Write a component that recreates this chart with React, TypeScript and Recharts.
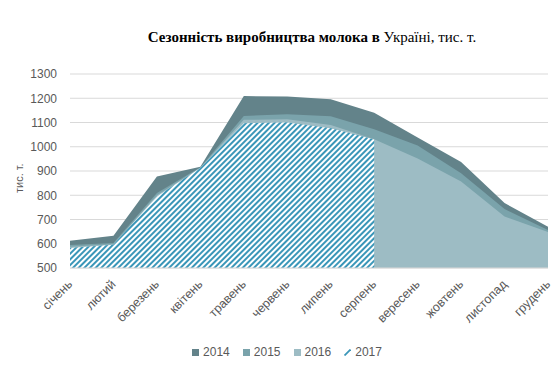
import { AreaChart, Area, XAxis, YAxis, CartesianGrid } from 'recharts'

const months = [
  'січень',
  'лютий',
  'березень',
  'квітень',
  'травень',
  'червень',
  'липень',
  'серпень',
  'вересень',
  'жовтень',
  'листопад',
  'грудень',
]

const y2014 = [612, 633, 877, 918, 1209, 1207, 1196, 1140, 1038, 937, 768, 670]
const y2015 = [595, 603, 809, 915, 1127, 1134, 1126, 1072, 1005, 891, 743, 657]
const y2016 = [588, 598, 800, 913, 1111, 1113, 1090, 1031, 952, 857, 712, 648]
const y2017 = [582, 596, 795, 912, 1097, 1100, 1076, 1030]

const yTicks = [500, 600, 700, 800, 900, 1000, 1100, 1200, 1300]

const C2014 = '#63838a'
const C2015 = '#7aa3ab'
const C2016 = '#9dbcc4'
const HATCH = '#3a96b8'
const TEXT = '#595959'
const FONT = '"Liberation Sans", Arial, sans-serif'

const data = months.map((m, i) => ({
  month: m,
  y2014: y2014[i],
  y2015: y2015[i],
  y2016: y2016[i],
  y2017: i < y2017.length ? y2017[i] : null,
}))

function MonthTick(props: any) {
  const { x, y, payload } = props
  return (
    <text
      x={0}
      y={0}
      transform={`translate(${x + 3},${y + 9}) rotate(-45)`}
      textAnchor="end"
      fontSize={12.5}
      fill={TEXT}
      fontFamily={FONT}
    >
      {payload.value}
    </text>
  )
}

const legendItems = [
  { name: '2014', color: C2014 },
  { name: '2015', color: C2015 },
  { name: '2016', color: C2016 },
  { name: '2017', color: null },
]

export default function App() {
  return (
    <div style={{ position: 'absolute', left: 0, top: 0, width: 554, height: 376, background: '#fff' }}>
      <div
        style={{
          position: 'absolute',
          top: 29,
          left: -8,
          width: 640,
          textAlign: 'center',
          fontFamily: '"Liberation Serif", "Times New Roman", serif',
          fontSize: 15,
          color: '#000',
          whiteSpace: 'nowrap',
        }}
      >
        <b>Сезонність виробництва молока в</b> Україні, тис. т.
      </div>
      <AreaChart width={554} height={376} data={data} margin={{ top: 74, right: 6, bottom: 48, left: 0 }}>
        <defs>
          <pattern id="hatch2017" patternUnits="userSpaceOnUse" width={4} height={4} patternTransform="rotate(45)">
            <rect width={4} height={4} fill="#fff" />
            <rect width={2} height={4} fill={HATCH} />
          </pattern>
        </defs>
        <CartesianGrid vertical={false} stroke="#d9d9d9" />
        <XAxis
          dataKey="month"
          interval={0}
          height={60}
          tickLine={false}
          axisLine={{ stroke: '#d9d9d9' }}
          tick={<MonthTick />}
        />
        <YAxis
          width={70}
          domain={[500, 1300]}
          ticks={yTicks}
          tickLine={false}
          axisLine={false}
          tickMargin={7}
          tick={{ fill: TEXT, fontSize: 12, fontFamily: FONT }}
          label={{
            value: 'тис. т.',
            angle: -90,
            position: 'insideLeft',
            dx: 14,
            dy: 22,
            fill: TEXT,
            fontSize: 11,
            fontFamily: FONT,
          }}
        />
        <Area type="linear" dataKey="y2014" fill={C2014} fillOpacity={1} stroke="none" isAnimationActive={false} activeDot={false} />
        <Area type="linear" dataKey="y2015" fill={C2015} fillOpacity={1} stroke="none" isAnimationActive={false} activeDot={false} />
        <Area type="linear" dataKey="y2016" fill={C2016} fillOpacity={1} stroke="none" isAnimationActive={false} activeDot={false} />
        <Area
          type="linear"
          dataKey="y2017"
          fill="url(#hatch2017)"
          fillOpacity={1}
          stroke="none"
          isAnimationActive={false}
          activeDot={false}
        />
      </AreaChart>
      <div
        style={{
          position: 'absolute',
          top: 345,
          left: 0,
          width: 554,
          display: 'flex',
          justifyContent: 'center',
          gap: 13,
          paddingLeft: 20,
          boxSizing: 'border-box',
          fontFamily: FONT,
          fontSize: 12,
          color: TEXT,
        }}
      >
        {legendItems.map((it) => (
          <div key={it.name} style={{ display: 'flex', alignItems: 'center', gap: 4 }}>
            {it.color ? (
              <span style={{ width: 7, height: 7, background: it.color, display: 'inline-block' }} />
            ) : (
              <svg width={7} height={7}>
                <path d="M0.5 6.5 L6.5 0.5" stroke={HATCH} strokeWidth={1.8} />
              </svg>
            )}
            <span>{it.name}</span>
          </div>
        ))}
      </div>
    </div>
  )
}
